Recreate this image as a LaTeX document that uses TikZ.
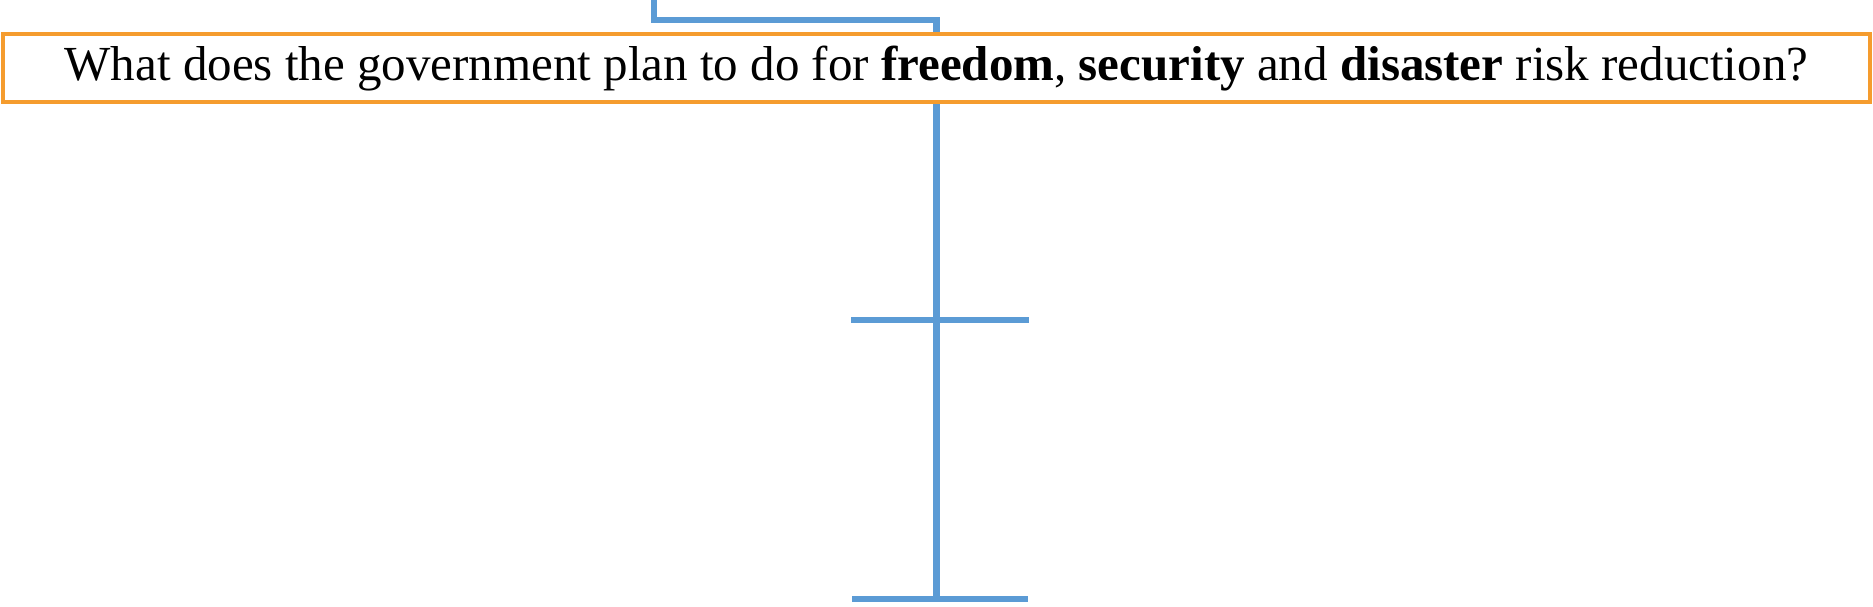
\documentclass[tikz,border=0pt]{standalone}
\usepackage{fontspec}
\setmainfont{Liberation Serif}
\definecolor{lineblue}{RGB}{91,155,213}
\definecolor{boxorange}{RGB}{245,156,46}
\begin{document}
\begin{tikzpicture}[x=1pt,y=1pt,
  conn/.style={draw=lineblue,line width=6.5pt},
  qbox/.style={draw=boxorange,line width=4pt,minimum width=1867pt,minimum height=68.5pt,inner sep=0pt,font=\fontsize{49}{56}\selectfont}]
\useasboundingbox (0,0) rectangle (1873,606);
\node[qbox] (q) at (936.5,537.75) {What does the government plan to do for \textbf{freedom}, \textbf{security} and \textbf{disaster} risk reduction?};
\coordinate (t0) at (654,606);
\coordinate (t1) at (654,586);
\coordinate (t2) at (936.5,586);
\coordinate (b0) at (936.5,7);
\coordinate (c1l) at (851,286);
\coordinate (c1r) at (1029,286);
\coordinate (c2l) at (852,7);
\coordinate (c2r) at (1028,7);
\draw[conn] (t0) -- (t1) -- (t2) -- (q.north);
\draw[conn] (q.south) -- (b0);
\draw[conn] (c1l) -- (c1r);
\draw[conn] (c2l) -- (c2r);
\end{tikzpicture}
\end{document}
